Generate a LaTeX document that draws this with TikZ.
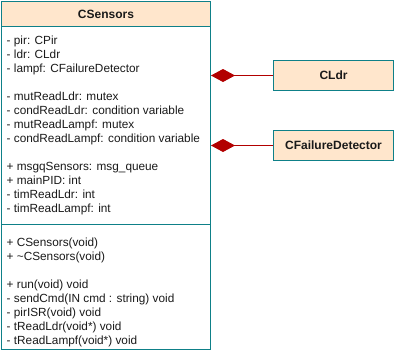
\documentclass[tikz,border=0pt]{standalone}
\usepackage{fontspec}
\setmainfont{Liberation Sans}
\usetikzlibrary{arrows.meta}
\definecolor{umlfill}{HTML}{FFE6CC}
\definecolor{umlline}{HTML}{0E8088}
\definecolor{compo}{HTML}{B20000}
\definecolor{txt}{HTML}{1A1A1A}
\begin{document}
\begin{tikzpicture}[x=1pt,y=-1pt,
  classhead/.style={draw=umlline, fill=umlfill, line width=1pt, inner sep=0pt,
    font=\bfseries\fontsize{12}{14}\selectfont, text=txt},
  compart/.style={draw=umlline, fill=white, line width=1pt, inner sep=0pt},
  members/.style={anchor=north west, align=left, inner sep=0pt, text=txt,
    font=\fontsize{11.8}{14}\selectfont},
  composition/.style={draw=compo, line width=1pt,
    -{Diamond[length=24pt,width=13pt,fill=compo]}}]
\useasboundingbox (0,0) rectangle (394,354);
% class CSensors: name, attributes, operations
\node[classhead, minimum width=209pt, minimum height=25pt, anchor=north west] (cs) at (1,1) {CSensors};
\node[compart, minimum width=209pt, minimum height=198pt, anchor=north west] (attrs) at (1,26) {};
\node[compart, minimum width=209pt, minimum height=125pt, anchor=north west] (ops) at (1,224) {};
\node[members] (attrtext) at (6.5,36) {- pir: CPir\\- ldr: CLdr\\- lampf: CFailureDetector\\[14pt]- mutReadLdr: mutex\\- condReadLdr: condition variable\\- mutReadLampf: mutex\\- condReadLampf: condition variable\\[14pt]+ msgqSensors: msg\_queue\\+ mainPID: int\\- timReadLdr: int\\- timReadLampf: int};
\node[members] (optext) at (6.5,237.5) {+ CSensors(void)\\+ \textasciitilde CSensors(void)\\[14pt]+ run(void) void\\- sendCmd(IN cmd : string) void\\- pirISR(void) void\\- tReadLdr(void*) void\\- tReadLampf(void*) void};
% component classes
\node[classhead, minimum width=120pt, minimum height=30pt, anchor=north west] (cldr) at (273,60) {CLdr};
\node[classhead, minimum width=120pt, minimum height=30pt, anchor=north west] (cfd) at (273,130) {CFailureDetector};
% composition links
\coordinate (ldrend) at (cldr.west -| attrs.east);
\coordinate (fdend) at (cfd.west -| attrs.east);
\draw[composition] (cldr.west) -- (ldrend);
\draw[composition] (cfd.west) -- (fdend);
\end{tikzpicture}
\end{document}
